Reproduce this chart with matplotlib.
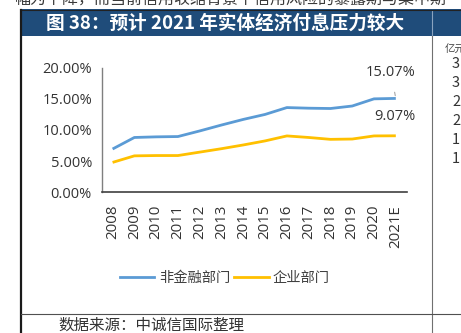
import matplotlib
matplotlib.use("Agg")
import matplotlib.pyplot as plt
from matplotlib.lines import Line2D
from matplotlib.patches import Rectangle

plt.rcParams['font.family'] = ['Noto Sans CJK SC', 'DejaVu Sans']

# Data: interest burden ratio by sector
years = ["2008", "2009", "2010", "2011", "2012", "2013", "2014",
         "2015", "2016", "2017", "2018", "2019", "2020", "2021E"]
non_financial = [6.95, 8.8, 8.9, 8.95, 9.85, 10.8, 11.7,
                 12.5, 13.6, 13.5, 13.45, 13.85, 15.0, 15.07]
corporate = [4.8, 5.85, 5.9, 5.9, 6.45, 7.0, 7.6,
             8.25, 9.05, 8.8, 8.5, 8.55, 9.05, 9.07]
series_names = ["非金融部门", "企业部门"]
yticks = [0, 5, 10, 15, 20]
ytick_labels = ["0.00%", "5.00%", "10.00%", "15.00%", "20.00%"]

title = "图 38：预计 2021 年实体经济付息压力较大"
source = "数据来源：中诚信国际整理"
top_line = "幅为下降，而当前信用收缩背景下信用风险的暴露期与集中期"
side_unit = "亿元"
side_ticks = ["3", "3", "2", "2", "1", "1"]

W, H = 461, 333
fig = plt.figure(figsize=(W / 100, H / 100), dpi=100)
fig.patch.set_facecolor("white")


def fx(x):
    return x / W


def fy(y):
    return 1 - y / H


# page frame: header bar, borders, separators
fig.patches.append(Rectangle((fx(21), fy(35.7)), fx(461 - 21), (35.7 - 9.5) / H,
                             transform=fig.transFigure, facecolor="#1F4C7A",
                             edgecolor="none", zorder=1))
fig.lines.append(Line2D([fx(432), fx(432)], [fy(9.5), fy(35.7)],
                        transform=fig.transFigure, color="#8AA3BF", lw=0.8, zorder=2))
fig.lines.append(Line2D([fx(21), fx(461)], [fy(9.5), fy(9.5)],
                        transform=fig.transFigure, color="#222222", lw=0.8, zorder=2))
fig.lines.append(Line2D([fx(21), fx(21)], [fy(9.5), fy(333)],
                        transform=fig.transFigure, color="#1a1a1a", lw=1.6, zorder=2))
fig.lines.append(Line2D([fx(432), fx(432)], [fy(35.7), fy(333)],
                        transform=fig.transFigure, color="#707070", lw=0.8, zorder=2))
fig.lines.append(Line2D([fx(21), fx(461)], [fy(313.5), fy(313.5)],
                        transform=fig.transFigure, color="#505050", lw=0.8, zorder=2))

fig.text(fx(15), fy(0.5), top_line, fontsize=11.5, color="#3a3a3a",
         ha="left", va="center")
fig.text(fx(46), fy(23), title, fontsize=13.4, color="white",
         fontweight="bold", ha="left", va="center", zorder=3)
fig.text(fx(58), fy(325.5), source, fontsize=11.2, color="#333333",
         style="italic", ha="left", va="center")

fig.text(fx(445), fy(50), side_unit, fontsize=7.5, color="#444444",
         ha="left", va="center", style="italic")
for i, t in enumerate(side_ticks):
    fig.text(fx(452), fy(64 + i * 19), t, fontsize=10.5, color="#333333",
             ha="left", va="center")

# chart
ax = fig.add_axes([fx(101.7), fy(192.3), fx(406.7 - 101.7), (192.3 - 67.7) / H])
x = list(range(len(years)))
blue, yellow = "#5B9BD5", "#FFC000"
ax.plot(x, non_financial, color=blue, lw=2.0, solid_capstyle="butt")
ax.plot(x, corporate, color=yellow, lw=2.0, solid_capstyle="butt")

ax.set_xlim(-0.5, len(years) - 0.5)
ax.set_ylim(0, 20)
ax.set_yticks(yticks)
ax.set_yticklabels(ytick_labels)
ax.set_xticks(x)
ax.set_xticklabels(years, rotation=90)
ax.tick_params(axis="y", length=0, pad=7, labelsize=10.5, labelcolor="#333333")
ax.tick_params(axis="x", length=0, pad=9, labelsize=10.8, labelcolor="#333333")
for lab in ax.get_yticklabels() + ax.get_xticklabels():
    lab.set_family(["Open Sans", "DejaVu Sans"])
for s in ["top", "right"]:
    ax.spines[s].set_visible(False)
ax.spines["left"].set_color("#7F7F7F")
ax.spines["left"].set_linewidth(1.0)
ax.spines["bottom"].set_color("#404040")
ax.spines["bottom"].set_linewidth(1.2)
ax.set_facecolor("none")

# value labels on the final point
ax.annotate(f"{non_financial[-1]:.2f}%", xy=(x[-1], non_financial[-1]),
            xytext=(-5, 26), textcoords="offset pixels", ha="center", va="center",
            fontsize=10.5, color="#333333", family=["Open Sans", "DejaVu Sans"],
            arrowprops=dict(arrowstyle="-", color="#A6A6A6", lw=0.8,
                            shrinkA=7, shrinkB=2))
ax.annotate(f"{corporate[-1]:.2f}%", xy=(x[-1], corporate[-1]),
            xytext=(-1, 19), textcoords="offset pixels", ha="center", va="center",
            fontsize=10.5, color="#333333", family=["Open Sans", "DejaVu Sans"])

# legend
handles = [Line2D([], [], color=blue, lw=2.0), Line2D([], [], color=yellow, lw=2.0)]
fig.legend(handles, series_names, loc="center", bbox_to_anchor=(fx(225), fy(277.7)),
           ncol=2, frameon=False, fontsize=10.3, handlelength=2.4,
           handletextpad=0.3, columnspacing=0.3, labelcolor="#404040")

fig.savefig("out.png", dpi=100, facecolor="white")
